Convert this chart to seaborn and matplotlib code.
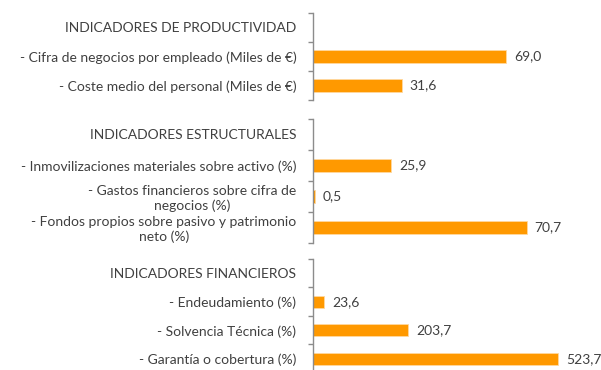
import matplotlib
matplotlib.use("Agg")
import matplotlib.pyplot as plt
import seaborn as sns
import pandas as pd
import numpy as np

sns.set_theme(style="white")
plt.rcParams["font.family"] = ["Lato", "DejaVu Sans"]

# Indicator groups: header label, indicator labels and their values
prod_header = "INDICADORES DE PRODUCTIVIDAD"
prod_labels = ["- Cifra de negocios por empleado (Miles de €)",
               "- Coste medio del personal (Miles de €)"]
prod_values = [69.0, 31.6]

estr_header = "INDICADORES ESTRUCTURALES"
estr_labels = ["- Inmovilizaciones materiales sobre activo (%)",
               "- Gastos financieros sobre cifra de\nnegocios (%)",
               "- Fondos propios sobre pasivo y patrimonio\nneto (%)"]
estr_values = [25.9, 0.5, 70.7]

fin_header = "INDICADORES FINANCIEROS"
fin_labels = ["- Endeudamiento (%)",
              "- Solvencia Técnica (%)",
              "- Garantía o cobertura (%)"]
fin_values = [23.6, 203.7, 523.7]

BAR = "#FF9900"
TXT = "#404040"
AXC = "#8c8c8c"
FS = 10

W, H = 601, 370
fig = plt.figure(figsize=(W / 100, H / 100), dpi=100)

left_px, right_px = 313, 590

# (header, labels, values, top px, bottom px, x max)
groups = [
    (prod_header, prod_labels, prod_values, 13, 100, 98.9),
    (estr_header, estr_labels, estr_values, 119, 243, 91.7),
    (fin_header, fin_labels, fin_values, 259, 373, 592.0),
]

for header, labels, values, top, bottom, xmax in groups:
    ax = fig.add_axes([left_px / W, 1 - bottom / H,
                       (right_px - left_px) / W, (bottom - top) / H])
    df = pd.DataFrame({"indicador": labels, "valor": values})
    order = [header] + labels
    sns.barplot(data=df, y="indicador", x="valor", order=order,
                color=BAR, saturation=1, width=0.42, ax=ax,
                edgecolor="#FFD9A0", linewidth=0.6)
    ax.set_xlim(0, xmax)
    ax.set_ylim(len(order) - 0.5, -0.5)
    ax.set_xlabel("")
    ax.set_ylabel("")
    ax.set_xticks([])
    for s in ["top", "right", "bottom"]:
        ax.spines[s].set_visible(False)
    ax.spines["left"].set_color(AXC)
    ax.spines["left"].set_linewidth(1.0)
    ax.set_yticks(range(len(order)))
    ax.set_yticklabels(order, fontsize=FS, color=TXT, multialignment="center")
    ax.set_yticks(np.arange(len(order) + 1) - 0.5, minor=True)
    ax.tick_params(axis="y", which="both", left=True)
    ax.tick_params(axis="y", which="major", length=0, pad=12)
    ax.tick_params(axis="y", which="minor", length=3.5, width=1.0,
                   color=AXC, direction="out")
    for i, v in enumerate(values, start=1):
        ax.text(v + xmax * 0.028, i, f"{v:.1f}".replace(".", ","),
                va="center", ha="left", fontsize=FS, color=TXT)

fig.savefig("out.png", dpi=100)
